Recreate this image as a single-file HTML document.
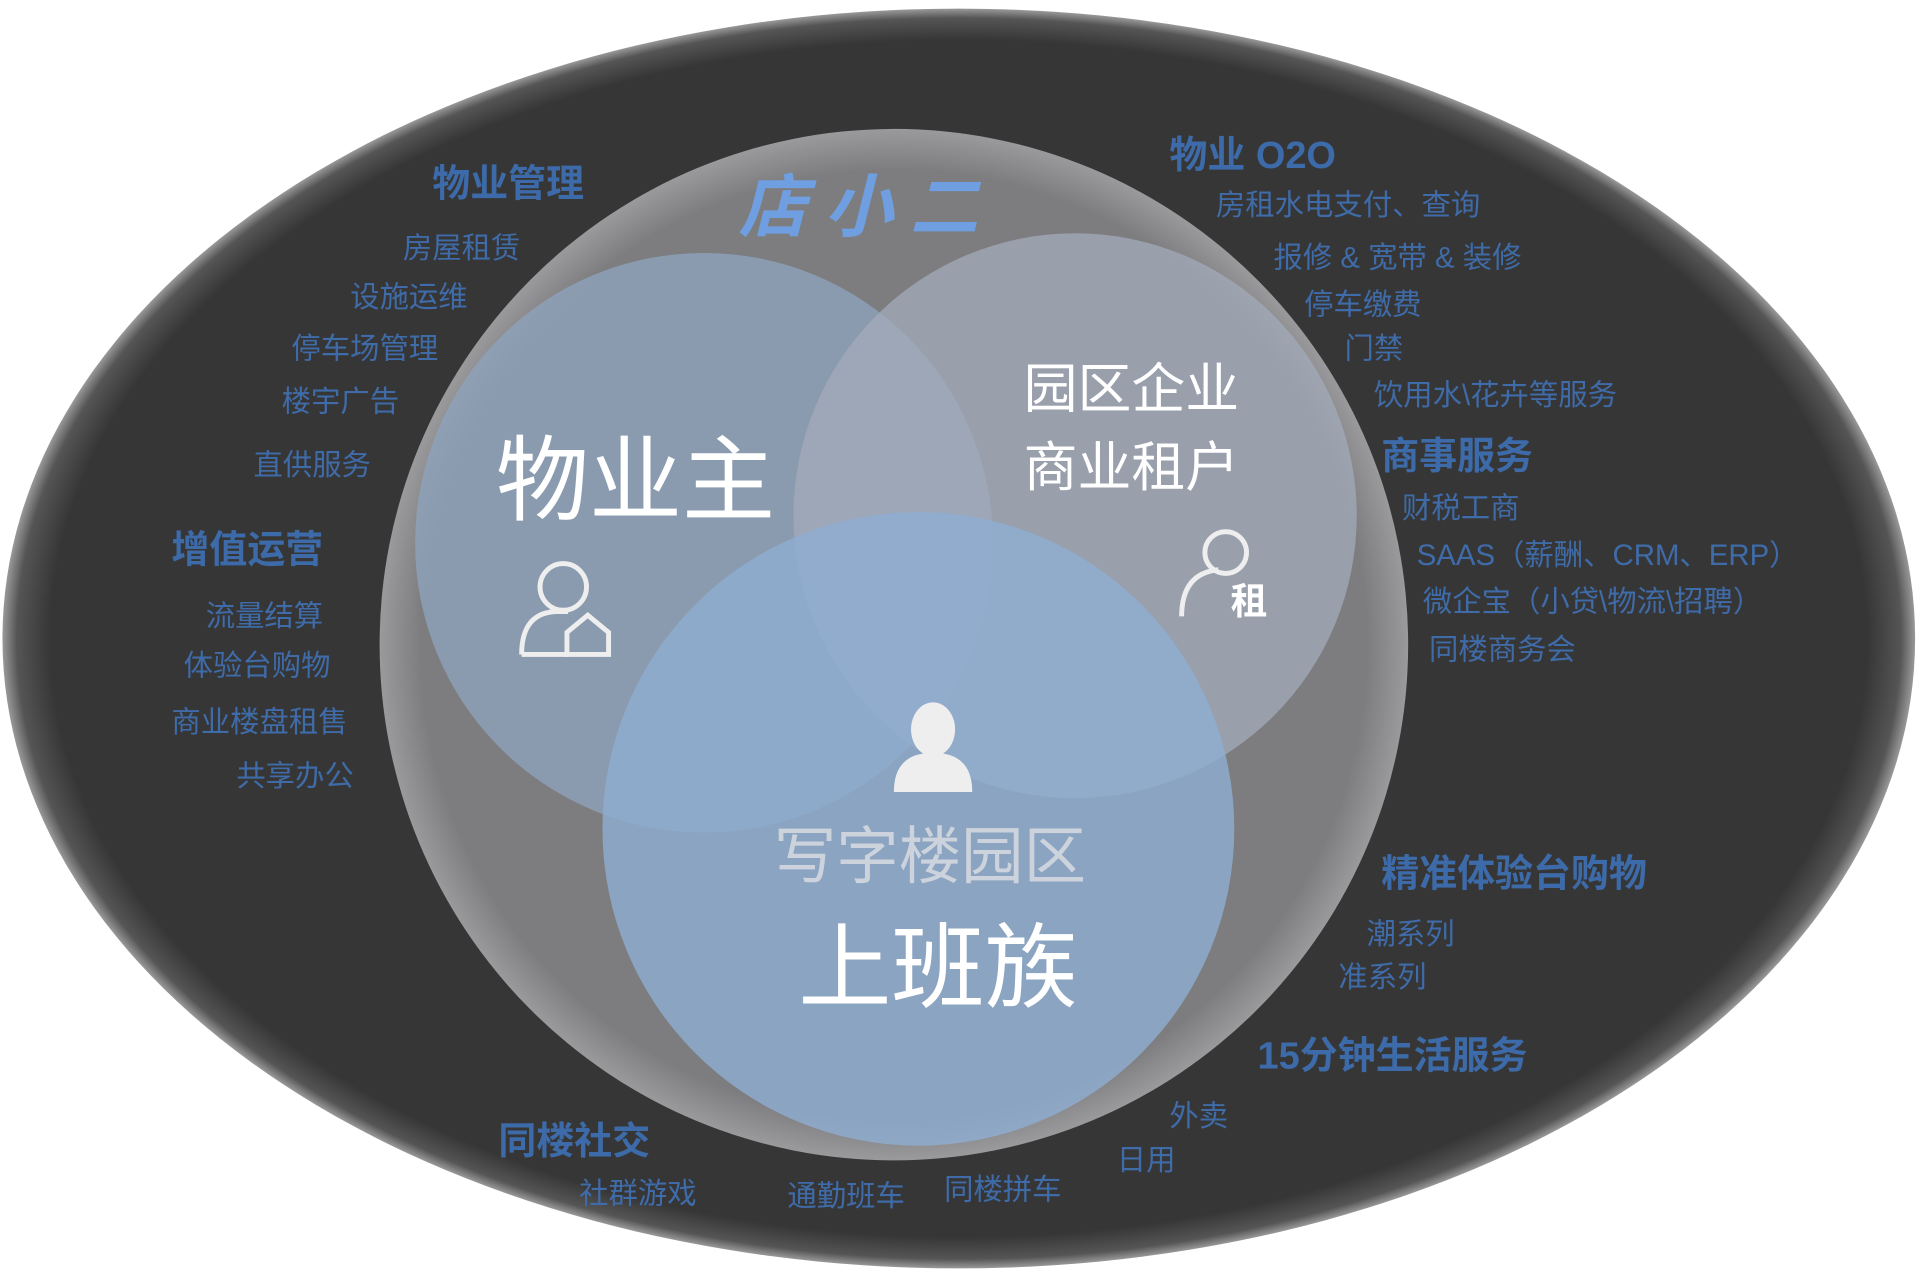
<!DOCTYPE html>
<html><head><meta charset="utf-8"><style>
html,body{margin:0;padding:0;background:#fff;}
svg{display:block;}
text{font-family:"Liberation Sans","Noto Sans CJK SC",sans-serif;}
.h{fill:#3d6aa8;font-weight:bold;font-size:31px;}
.i{fill:#3f6ba8;font-size:24px;}
</style></head><body>
<svg width="1920" height="1277" viewBox="0 0 1568 1040" preserveAspectRatio="none">
<defs>
<radialGradient id="og" cx="50%" cy="50%" r="50%">
<stop offset="0.95" stop-color="#363636"/><stop offset="0.985" stop-color="#555"/><stop offset="1" stop-color="#999"/>
</radialGradient>
<radialGradient id="bg" cx="50%" cy="50%" r="50%">
<stop offset="0.92" stop-color="#7d7d7f"/><stop offset="1" stop-color="#9a9a9c"/>
</radialGradient>
</defs>
<ellipse cx="783" cy="520" rx="781" ry="513" fill="url(#og)"/>
<circle cx="730" cy="525" r="420" fill="url(#bg)"/>
<circle cx="575" cy="442" r="236" fill="#8fa3bb" fill-opacity="0.8"/>
<circle cx="878" cy="420" r="230" fill="#a3abba" fill-opacity="0.75"/>
<circle cx="750" cy="675" r="258" fill="#8eaed2" fill-opacity="0.8"/>

<text x="603" y="188" font-size="56" font-style="italic" fill="#6f9fe0" font-weight="bold" letter-spacing="14">店小二</text>
<text x="405" y="418" font-size="76" fill="#fff">物业主</text>
<text x="836" y="332" font-size="44" fill="#fff">园区企业</text>
<text x="836" y="396" font-size="44" fill="#fff">商业租户</text>
<text x="632" y="715" font-size="51" fill="#cdd3dc">写字楼园区</text>
<text x="652" y="815" font-size="76" fill="#fff">上班族</text>

<g stroke="#eee" stroke-width="4" fill="none">
<circle cx="460" cy="478" r="19"/><path d="M426 533 q0-35 30-35 h8"/><path d="M426 533 h38"/><path d="M463 515 l17-14 17 14 v18 h-34z"/>
</g>
<g>
<circle cx="1001" cy="450" r="17" stroke="#eee" stroke-width="4" fill="none"/>
<path d="M965 502 q0-35 30-38" stroke="#eee" stroke-width="4" fill="none"/>
<text x="1005" y="500" font-size="30" fill="#fff" font-weight="bold">租</text>
</g>
<g fill="#eee">
<ellipse cx="762" cy="594" rx="18" ry="22"/><path d="M730 645 q0-32 32-32 q32 0 32 32z"/>
</g>

<g>
<text class="h" x="353" y="160">物业管理</text>
<text class="i" x="329" y="210">房屋租赁</text>
<text class="i" x="286" y="250">设施运维</text>
<text class="i" x="238" y="292">停车场管理</text>
<text class="i" x="230" y="335">楼宇广告</text>
<text class="i" x="207" y="387">直供服务</text>
<text class="h" x="140" y="458">增值运营</text>
<text class="i" x="168" y="510">流量结算</text>
<text class="i" x="150" y="550">体验台购物</text>
<text class="i" x="140" y="596">商业楼盘租售</text>
<text class="i" x="193" y="640">共享办公</text>
</g>
<g>
<text class="h" x="955" y="137">物业 O2O</text>
<text class="i" x="993" y="175">房租水电支付、查询</text>
<text class="i" x="1040" y="218">报修 &amp; 宽带 &amp; 装修</text>
<text class="i" x="1065" y="256">停车缴费</text>
<text class="i" x="1098" y="292">门禁</text>
<text class="i" x="1122" y="330">饮用水\花卉等服务</text>
<text class="h" x="1128" y="382">商事服务</text>
<text class="i" x="1145" y="422">财税工商</text>
<text class="i" x="1157" y="460">SAAS（薪酬、CRM、ERP）</text>
<text class="i" x="1162" y="498">微企宝（小贷\物流\招聘）</text>
<text class="i" x="1167" y="537">同楼商务会</text>
<text class="h" x="1128" y="722">精准体验台购物</text>
<text class="i" x="1116" y="769">潮系列</text>
<text class="i" x="1093" y="804">准系列</text>
<text class="h" x="1027" y="870">15分钟生活服务</text>
<text class="i" x="955" y="917">外卖</text>
<text class="i" x="912" y="953">日用</text>
</g>
<g>
<text class="h" x="407" y="940">同楼社交</text>
<text class="i" x="473" y="980">社群游戏</text>
<text class="i" x="643" y="982">通勤班车</text>
<text class="i" x="771" y="977">同楼拼车</text>
</g>
</svg>
</body></html>
